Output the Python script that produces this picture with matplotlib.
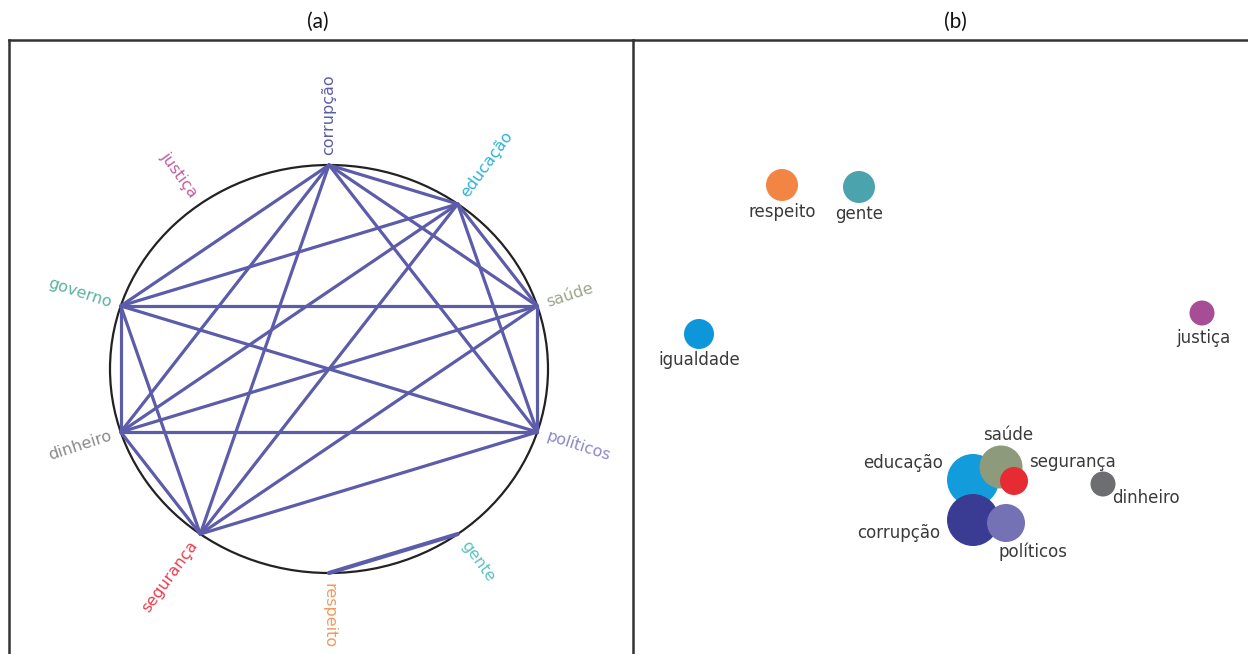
import numpy as np
import matplotlib.pyplot as plt
from matplotlib.patches import Circle

# (a) words placed around the circle, clockwise from the top
circle_words = ["corrupção", "educação", "saúde", "políticos", "gente",
                "respeito", "segurança", "dinheiro", "governo", "justiça"]
circle_colors = ["#5b5ea6", "#2fb4d8", "#9ca58a", "#8c88c6", "#5fc0c0",
                 "#f09a5e", "#e8404f", "#8a8a8a", "#5cb39c", "#c0609c"]

# co-occurrence links between words
links = [
    ("corrupção", "educação"), ("corrupção", "saúde"), ("corrupção", "políticos"),
    ("corrupção", "segurança"), ("corrupção", "dinheiro"), ("corrupção", "governo"),
    ("educação", "saúde"), ("educação", "políticos"), ("educação", "segurança"),
    ("educação", "dinheiro"), ("educação", "governo"),
    ("saúde", "políticos"), ("saúde", "segurança"), ("saúde", "dinheiro"), ("saúde", "governo"),
    ("políticos", "segurança"), ("políticos", "dinheiro"), ("políticos", "governo"),
    ("segurança", "dinheiro"), ("segurança", "governo"),
    ("dinheiro", "governo"),
    ("respeito", "gente"),
]

# (b) word map: position, bubble radius, colour
map_words = ["respeito", "gente", "igualdade", "justiça", "educação",
             "saúde", "segurança", "corrupção", "políticos", "dinheiro"]
map_x = [782, 859, 699, 1202, 973, 1001, 1014, 973, 1006, 1103]
map_y = [185, 187, 334, 313, 480, 467, 481, 520, 523, 484]
map_r = [16, 16, 15, 12.5, 26, 21.5, 14, 26, 19, 12.5]
map_colors = ["#f28444", "#4aa3ad", "#0e96da", "#a64d95", "#129cdb",
              "#8d9a7c", "#e62b33", "#3a3c93", "#7471b5", "#6d6e71"]

# label offsets (pixels) and alignment for the word map
label_style = {
    "respeito": (0, 27, "center"), "gente": (0, 27, "center"),
    "igualdade": (0, 26, "center"), "justiça": (1, 25, "center"),
    "educação": (-30, -17, "right"), "saúde": (7, -32, "center"),
    "segurança": (15, -19, "left"), "corrupção": (-33, 13, "right"),
    "políticos": (27, 29, "center"), "dinheiro": (9, 14, "left"),
}

W, H = 1248, 654
fig = plt.figure(figsize=(W / 100, H / 100), dpi=100)
fig.patch.set_facecolor("white")

frame_color = "#333333"

# ---- panel (a): circular link diagram
ax_a = fig.add_axes([9 / W, 0, 624 / W, 614 / H])
rx, ry = 219, 204
ax_a.set_xlim(-320 / rx, 304 / rx)
ax_a.set_ylim(-285 / ry, 329 / ry)
ax_a.set_xticks([])
ax_a.set_yticks([])
for side in ["left", "top"]:
    ax_a.spines[side].set_color(frame_color)
    ax_a.spines[side].set_linewidth(1.8)
ax_a.spines["bottom"].set_visible(False)
ax_a.spines["right"].set_visible(False)

angles = np.deg2rad(90 - 36 * np.arange(len(circle_words)))
pos = {w: (np.cos(t), np.sin(t)) for w, t in zip(circle_words, angles)}

for a, b in links:
    (x1, y1), (x2, y2) = pos[a], pos[b]
    lw = 3.0 if (a, b) == ("respeito", "gente") else 2.3
    ax_a.plot([x1, x2], [y1, y2], color="#5d5caa", lw=lw,
              solid_capstyle="round", zorder=2)

ax_a.add_patch(Circle((0, 0), 1, fill=False, ec="#222222", lw=1.6, zorder=1))

for w, t, c in zip(circle_words, angles, circle_colors):
    deg = np.rad2deg(t)
    if -90 <= deg <= 90:
        rot, ha = deg, "left"
    else:
        rot, ha = deg - 180, "right"
    off = 7.5
    ax_a.annotate(w, pos[w], xytext=(off * np.cos(t), off * np.sin(t)),
                  textcoords="offset points", rotation=rot, rotation_mode="anchor",
                  ha=ha, va="center", fontsize=11.5, color=c,
                  family="DejaVu Sans")

# ---- panel (b): word map bubbles
ax_b = fig.add_axes([633 / W, 0, 615 / W, 614 / H])
ax_b.patch.set_alpha(0)
ax_b.set_xlim(633, 1248)
ax_b.set_ylim(654, 40)
ax_b.set_xticks([])
ax_b.set_yticks([])
for side in ["right", "bottom"]:
    ax_b.spines[side].set_visible(False)
for side in ["left", "top"]:
    ax_b.spines[side].set_color(frame_color)
    ax_b.spines[side].set_linewidth(1.8)

draw_order = ["respeito", "gente", "igualdade", "justiça", "educação",
              "saúde", "segurança", "corrupção", "políticos", "dinheiro"]
for k, w in enumerate(draw_order):
    i = map_words.index(w)
    ax_b.add_patch(Circle((map_x[i], map_y[i]), map_r[i], color=map_colors[i],
                          lw=0, zorder=2 + k))

for i, w in enumerate(map_words):
    dx, dy, ha = label_style[w]
    ax_b.annotate(w, (map_x[i], map_y[i]), xytext=(dx * 0.72, -dy * 0.72),
                  textcoords="offset points", ha=ha, va="center",
                  fontsize=12, color="#3a3a3a", family="DejaVu Sans", zorder=20)

# panel captions
fig.text(318 / W, 1 - 22 / H, "(a)", ha="center", va="center", fontsize=15,
         family="Lato", color="#111111")
fig.text(955 / W, 1 - 22 / H, "(b)", ha="center", va="center", fontsize=15,
         family="Lato", color="#111111")

fig.savefig("out.png", dpi=100, facecolor="white")
